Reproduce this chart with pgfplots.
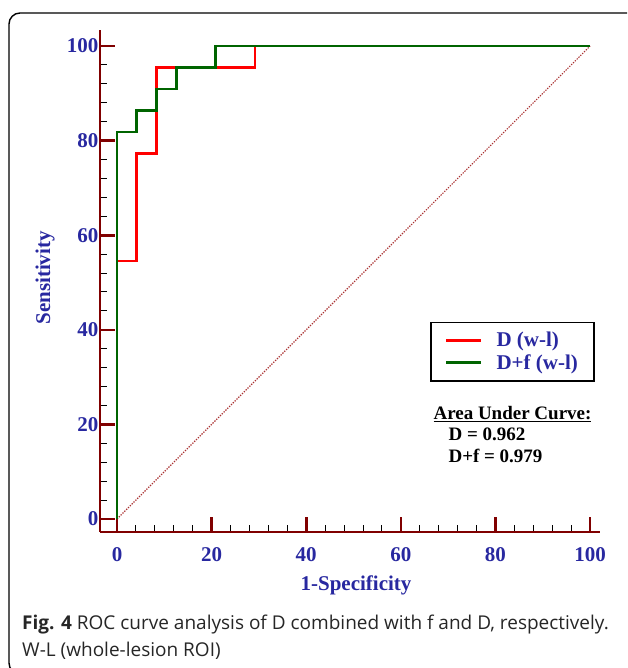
\documentclass[border=0pt]{standalone}
\usepackage{fontspec}
\setmainfont{Liberation Serif}
\newfontfamily\capfont{Open Sans}
\usepackage{pgfplots}
\usepackage{pgfplotstable}
\pgfplotsset{compat=1.18}

\definecolor{axred}{RGB}{128,0,0}
\definecolor{lblue}{RGB}{40,40,160}
\definecolor{dgreen}{RGB}{0,100,0}
\definecolor{diagred}{RGB}{170,50,50}

% D (w-l): 22 positives, 24 negatives
\pgfplotstableread{
x y
0 0
0 54.55
4.17 54.55
4.17 77.27
8.33 77.27
8.33 95.45
29.17 95.45
29.17 100
100 100
}\dwl

% D+f (w-l)
\pgfplotstableread{
x y
0 0
0 81.82
4.17 81.82
4.17 86.36
8.33 86.36
8.33 90.91
12.50 90.91
12.50 95.45
20.83 95.45
20.83 100
100 100
}\dfwl

\begin{document}
\begin{tikzpicture}
% outer frame of the figure panel
\begin{scope}
\clip (0,0) rectangle (627pt,668pt);
\draw[line width=1.4pt, rounded corners=11pt] (9pt,-6pt) rectangle (645pt,655pt);
\end{scope}

\begin{axis}[
    at={(100pt,136pt)}, anchor=south west,
    scale only axis,
    width=500pt, height=502pt,
    xmin=-3.6, xmax=102.1,
    ymin=-2.75, ymax=103.4,
    axis x line*=bottom,
    axis y line*=left,
    axis line style={draw=axred, line width=2.6pt},
    xtick={0,20,...,100},
    ytick={0,20,...,100},
    minor tick num=4,
    tick align=inside,
    major tick length=15pt,
    minor tick length=7pt,
    major tick style={draw=axred, line width=2.6pt},
    minor tick style={draw=black, line width=1pt},
    /pgf/number format/assume math mode=true,
    ticklabel style={font=\fontsize{21}{24}\selectfont\bfseries, text=lblue},
    xticklabel style={yshift=-12pt},
    yticklabel style={xshift=2pt},
    xlabel={1-Specificity},
    ylabel={Sensitivity},
    label style={font=\fontsize{21}{24}\selectfont\bfseries, text=lblue},
    xlabel style={at={(axis description cs:0.512,-0.106)}, anchor=center},
    ylabel style={at={(axis description cs:-0.11,0.506)}, anchor=center, rotate=0},
    clip=false,
    legend style={at={(axis description cs:0.66,0.419)}, anchor=north west,
        draw=black, line width=1.5pt, text=lblue,
        font=\fontsize{21}{24}\selectfont\bfseries,
        inner xsep=14pt, inner ysep=8pt, row sep=2pt, column sep=12pt},
    legend cell align=left,
    legend image code/.code={\draw[#1] (0pt,0pt) -- (35pt,0pt);},
]
\addplot[diagred, line width=1.2pt, dash pattern=on 1.3pt off 1.3pt, forget plot]
    coordinates {(0,0) (100,100)};
\addplot[red, line width=2.6pt] table[x=x, y=y] {\dwl};
\addlegendentry{D (w-l)}
\addplot[dgreen, line width=2.8pt] table[x=x, y=y] {\dfwl};
\addlegendentry{D+f (w-l)}

\node[anchor=base west, font=\fontsize{19}{22}\selectfont\bfseries]
    at (axis description cs:0.66,0.225) {\underline{Area Under Curve:}};
\node[anchor=base west, font=\fontsize{19}{22}\selectfont\bfseries]
    at (axis description cs:0.69,0.183) {D = 0.962};
\node[anchor=base west, font=\fontsize{19}{22}\selectfont\bfseries]
    at (axis description cs:0.69,0.139) {D+f = 0.979};
\end{axis}

% caption
\node[anchor=base west, inner sep=0pt, text=black!85, font=\capfont\fontsize{19}{27}\selectfont]
    at (22pt,38pt) {\textbf{Fig. 4} ROC curve analysis of D combined with f and D, respectively.};
\node[anchor=base west, inner sep=0pt, text=black!85, font=\capfont\fontsize{19}{27}\selectfont]
    at (22pt,11pt) {W-L (whole-lesion ROI)};

\pgfresetboundingbox
\path[use as bounding box] (0,0) rectangle (627pt,668pt);
\end{tikzpicture}
\end{document}
